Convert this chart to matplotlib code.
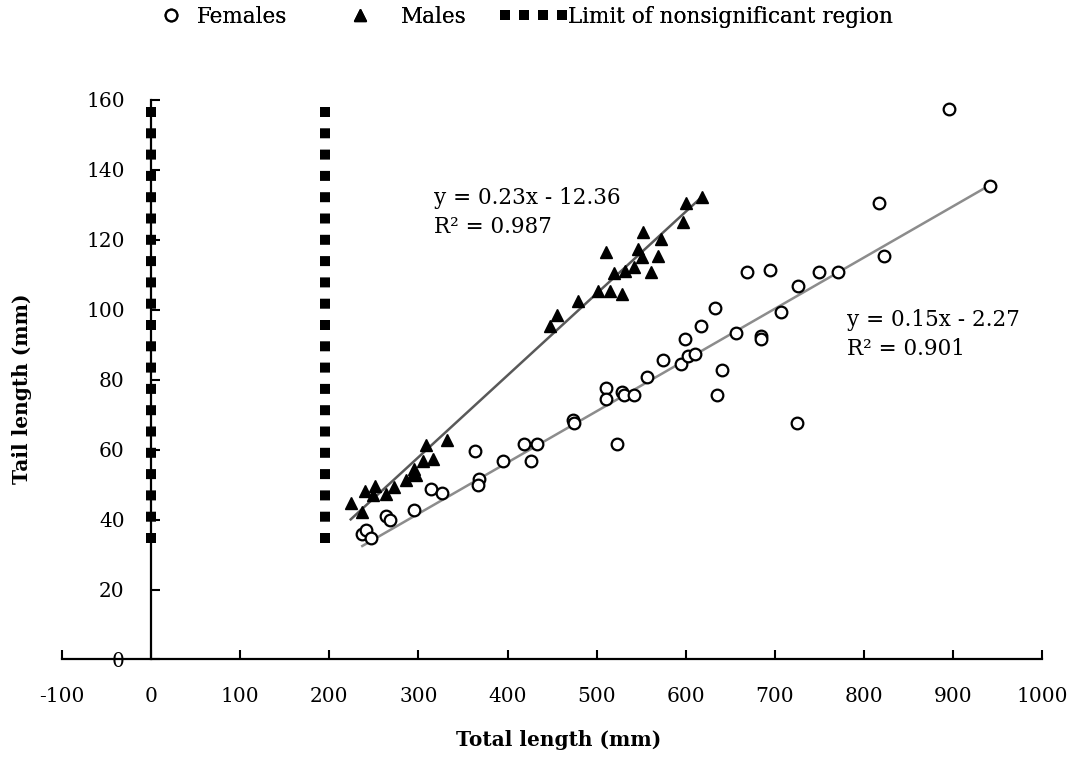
import numpy as np
import matplotlib
matplotlib.use("Agg")
import matplotlib.pyplot as plt
from matplotlib.lines import Line2D

# Data
fem_x = [237, 241, 247, 264, 268, 295, 314, 327, 364, 368, 367, 395, 418, 433, 426,
         474, 475, 510, 510, 529, 531, 542, 523, 556, 574, 595, 603, 610, 599, 617,
         633, 635, 641, 657, 685, 684, 669, 695, 707, 726, 725, 750, 771, 817, 823,
         895, 942]
fem_y = [36.0, 37.0, 34.6, 41.0, 39.8, 42.7, 48.7, 47.7, 59.5, 51.5, 49.8, 56.7, 61.5, 61.5, 56.7,
         68.4, 67.5, 77.5, 74.6, 76.5, 75.5, 75.6, 61.5, 80.7, 85.5, 84.6, 86.7, 87.4, 91.5, 95.5,
         100.5, 75.7, 82.7, 93.4, 92.5, 91.5, 110.8, 111.4, 99.5, 106.7, 67.6, 110.8, 110.8, 130.5, 115.5,
         157.4, 135.5]

male_x = [224, 237, 240, 251, 249.5, 264, 273, 286, 294, 297, 295.5, 305, 309, 316, 332,
          448, 456, 479, 502, 510.5, 515, 520, 528.5, 532, 541.5, 546, 550.7, 552.6, 561,
          569.4, 572.4, 597.4, 600.4, 618.8]
male_y = [44.6, 42.2, 48.1, 49.6, 46.9, 47.4, 49.3, 51.4, 53.1, 52.7, 54.4, 56.7, 61.4, 57.4, 62.7,
          95.5, 98.4, 102.4, 105.5, 116.6, 105.5, 110.6, 104.6, 111.0, 112.2, 117.4, 115.0, 122.2, 110.8,
          115.5, 120.3, 125.0, 130.5, 132.2]

# trend lines (slope, intercept) as drawn in the chart
male_fit = (0.234, -12.36)
fem_fit = (0.1465, -2.27)
male_label = "y = 0.23x - 12.36\nR² = 0.987"
fem_label = "y = 0.15x - 2.27\nR² = 0.901"

# limit of nonsignificant region
limit_x = [0, 195]
limit_y = [158.0, 33.2]

plt.rcParams['font.family'] = ['DejaVu Serif']
plt.rcParams['font.size'] = 14.5
plt.rcParams['axes.unicode_minus'] = False

fig = plt.figure(figsize=(10.81, 7.63), dpi=100)
ax = fig.add_axes([0.0574, 0.1357, 0.9066, 0.7333])

sq_style = dict(color='black', lw=7.2, linestyle=(0, (1.0, 1.13)), dash_capstyle='butt')
for lx in limit_x:
    ax.plot([lx, lx], limit_y, zorder=2, **sq_style)

# trend lines
mx = np.array([min(male_x), max(male_x)])
ax.plot(mx, male_fit[0] * mx + male_fit[1], color='#595959', lw=1.8, zorder=3)
fx = np.array([min(fem_x), max(fem_x)])
ax.plot(fx, fem_fit[0] * fx + fem_fit[1], color='#8c8c8c', lw=1.8, zorder=3)

ax.plot(fem_x, fem_y, 'o', ms=8.4, mfc='white', mec='black', mew=1.6, ls='none', zorder=4)
ax.plot(male_x, male_y, '^', ms=8.7, color='black', ls='none', zorder=5)

ax.text(318, 135.0, male_label, ha='left', va='top', fontsize=15.5, linespacing=1.4)
ax.text(781, 100.3, fem_label, ha='left', va='top', fontsize=15.5, linespacing=1.4)

ax.set_xlim(-100, 1000)
ax.set_ylim(0, 160)
ax.set_xticks(range(-100, 1001, 100))
ax.set_yticks(range(0, 161, 20))
ax.spines['left'].set_position(('data', 0))
ax.spines['bottom'].set_position(('data', 0))
ax.spines['top'].set_visible(False)
ax.spines['right'].set_visible(False)
for s in ['left', 'bottom']:
    ax.spines[s].set_linewidth(1.6)
ax.tick_params(axis='x', direction='in', length=6.5, width=1.5, pad=20)
ax.tick_params(axis='y', direction='in', length=6.5, width=1.5, pad=19)

fig.text(0.517, 0.03, "Total length (mm)", ha='center', va='center', fontweight='bold', fontsize=14.5)
fig.text(0.02, 0.49, "Tail length (mm)", ha='center', va='center', rotation=90,
         fontweight='bold', fontsize=14.5)

# legend: one entry per box so each key can have its own width
leg_entries = [
    (Line2D([], [], marker='o', ms=8.4, mfc='white', mec='black', mew=1.6, ls='none'),
     "Females", 161 / 1081, 0.95, 0.7),
    (Line2D([], [], marker='^', ms=8.7, color='black', ls='none'),
     "Males", 350 / 1081, 0.95, 1.4),
    (Line2D([], [], color='black', lw=7.2, linestyle=(0, (1.0, 0.9)), dash_capstyle='butt'),
     "Limit of nonsignificant region", 500 / 1081, 3.1, 0.08),
]
for h, lab, x0, hl, pad in leg_entries:
    leg = fig.legend([h], [lab], loc='center left', bbox_to_anchor=(x0, 0.978),
                     frameon=False, borderpad=0, borderaxespad=0, fontsize=15.5,
                     handlelength=hl, handletextpad=pad)
    fig.add_artist(leg)

fig.savefig("out.png", dpi=100)
